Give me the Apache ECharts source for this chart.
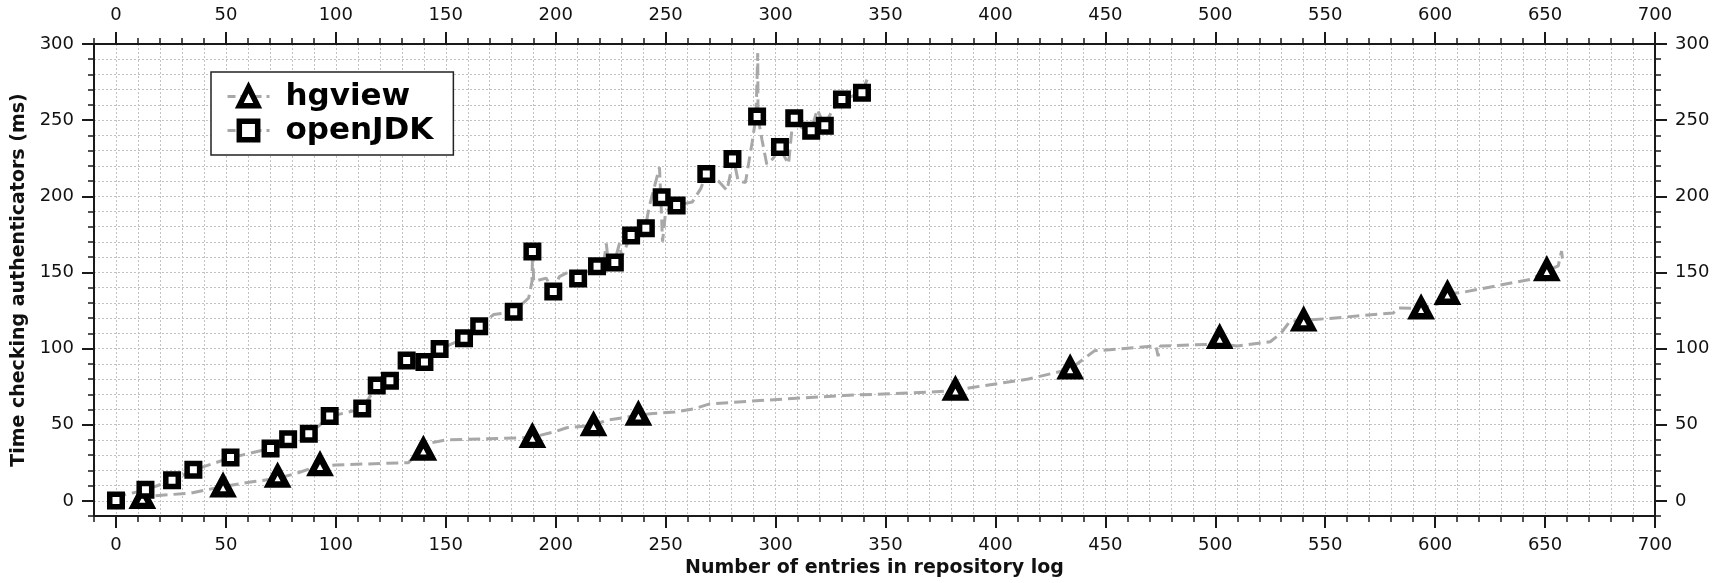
<!DOCTYPE html>
<html>
<head>
<meta charset="utf-8">
<script src="https://cdn.jsdelivr.net/npm/echarts@6/dist/echarts.min.js"></script>
<style>
html,body{margin:0;padding:0;background:#fff;}
#c{width:1716px;height:583px;}
</style>
</head>
<body>
<div id="c"></div>
<script>
// ---- data ----
const xMajorTicks = [0, 50, 100, 150, 200, 250, 300, 350, 400, 450, 500, 550, 600, 650, 700];
const yMajorTicks = [0, 50, 100, 150, 200, 250, 300];

// marker points
const hgviewX = [12, 48.7, 73.5, 92.8, 139.8, 189.4, 217.2, 237.6, 381.8, 434, 502, 540.2, 593.6, 605.6, 650.8];
const hgviewY = [2, 9.5, 16, 23.5, 33.6, 42, 49.7, 56.6, 73, 87, 107, 118.5, 126.5, 136, 151.5];

const openjdkX = [0, 13.4, 25.5, 35.2, 52.1, 70.3, 78.3, 87.7, 97.2, 112, 118.6, 124.6, 132.2, 140.3, 147.2, 158.3, 165.2, 180.9, 189.4, 198.9, 210.2, 218.8, 226.9, 234.3, 241, 248.2, 255, 268.5, 280.4, 291.6, 302, 308.5, 316.2, 322.4, 330.2, 339.3];
const openjdkY = [0.3, 7.3, 13.5, 20.5, 28.4, 34.4, 40.5, 44, 55.7, 60.6, 75.7, 78.8, 92.1, 91.2, 99.8, 106.8, 114.7, 124.2, 163.7, 137.5, 146, 154, 156.6, 174.3, 179, 199.4, 193.9, 214.7, 224.5, 252.4, 232.4, 251.2, 243, 246.3, 263.6, 268];

// dashed trace lines
const hgviewTraceX = [10, 12, 18, 34, 48.7, 62, 73.5, 82, 91, 100, 133, 142, 150, 185, 190, 200, 205, 217, 223, 237.5, 243, 254, 263, 270, 293, 331, 369, 382, 390, 415, 434, 445, 473, 474, 475, 502, 510, 525, 530, 534, 540, 551, 581, 583, 593.6, 603.5, 606, 612, 643.5, 651, 656, 657.5, 658];
const hgviewTraceY = [1, 2, 3.4, 5.1, 9.4, 12.5, 14.8, 18, 22.5, 23.6, 25.1, 37.7, 40, 41.4, 42, 45.6, 48, 49.5, 52.9, 56.2, 57.2, 58.3, 60.5, 63.7, 65.9, 69.2, 71.3, 72.5, 74.6, 80, 86.5, 98.5, 101.7, 95, 101.7, 103, 101.7, 104.5, 110.3, 118, 118.5, 119.7, 123.4, 126.6, 126.5, 130, 136, 136.8, 145.5, 151, 154.3, 164, 158];

const openjdkTraceX = [0, 4, 13.4, 25.5, 35.4, 52, 70.3, 78.3, 87.7, 97.5, 112, 118.7, 124.6, 132.4, 140.4, 147.2, 158.4, 165.4, 171.8, 180.9, 187.7, 189.2, 189.5, 190, 195.7, 198.7, 201.7, 206.2, 209.7, 218.6, 222, 223, 224, 226.7, 229, 230, 234.2, 240.7, 242.5, 247.2, 247.8, 248.6, 250, 254.6, 262.1, 265.9, 268.6, 274, 277.9, 280.9, 283, 286.3, 289.3, 291.1, 291.9, 292, 293.8, 296, 299, 301.8, 305.9, 307.9, 312, 316.1, 319, 322.2, 326, 329.9, 339.3, 341.6];
const openjdkTraceY = [0, 4, 7.2, 13.4, 20.3, 28.3, 34.4, 40.3, 43.8, 55.5, 60.5, 75.7, 78.5, 92, 91, 99.6, 106.7, 114.8, 122.4, 124.1, 133.2, 144, 163.6, 144, 146.3, 137.6, 147.3, 150.6, 146.3, 153.9, 158, 169, 156, 156.5, 169, 160, 174.5, 178.8, 192.9, 219, 199.4, 170.2, 190, 194, 196.2, 204.9, 214.6, 210, 203.8, 224.5, 210, 209, 235, 252.4, 294, 252, 237.3, 221, 225, 232, 221.3, 251, 245, 242.9, 257, 246.2, 257, 263.5, 267.8, 276.6];

// ---- build chart ----
const zip = (a, b) => a.map((v, i) => [v, b[i]]);
const FONT = 'DejaVu Sans';
const AXIS_COLOR = '#1a1a1a';
const GRID_LINE = { show: true, lineStyle: { color: '#c2c2c2', type: [2, 2], width: 1 } };
const TRACE = { color: '#a8a8a8', width: 3, type: [12, 6] };

function xAx(pos, major, labels, extra) {
  return Object.assign({
    type: 'value', position: pos, min: -10, max: 700, interval: 10,
    axisLine: { show: !major, onZero: false, lineStyle: { color: AXIS_COLOR, width: 2 } },
    axisTick: major ? { show: true, length: 12, customValues: xMajorTicks, lineStyle: { color: AXIS_COLOR, width: 2 } }
                    : { show: true, length: 6, lineStyle: { color: AXIS_COLOR, width: 1.5 } },
    axisLabel: labels ? { show: true, margin: 20, color: '#111', fontFamily: FONT, fontSize: 18,
                          formatter: v => xMajorTicks.indexOf(v) >= 0 ? String(v) : '' } : { show: false },
    splitLine: { show: false }
  }, extra || {});
}
function yAx(pos, major, labels, extra) {
  return Object.assign({
    type: 'value', position: pos, min: -10, max: 300, interval: 10,
    axisLine: { show: !major, onZero: false, lineStyle: { color: AXIS_COLOR, width: 2 } },
    axisTick: major ? { show: true, length: 12, customValues: yMajorTicks, lineStyle: { color: AXIS_COLOR, width: 2 } }
                    : { show: true, length: 6, lineStyle: { color: AXIS_COLOR, width: 1.5 } },
    axisLabel: labels ? { show: true, margin: 20, color: '#111', fontFamily: FONT, fontSize: 18,
                          formatter: v => yMajorTicks.indexOf(v) >= 0 ? String(v) : '' } : { show: false },
    splitLine: { show: false }
  }, extra || {});
}

const MARK = { color: '#fff', borderColor: '#000', borderWidth: 5.5, opacity: 1 };
const TRI = { color: '#fff', borderColor: '#000', borderWidth: 6.5, opacity: 1, borderJoin: 'miter' };

const chart = echarts.init(document.getElementById('c'), null, { renderer: 'canvas' });
chart.setOption({
  animation: false,
  backgroundColor: '#fff',
  grid: { left: 94, right: 61, top: 44, bottom: 64, containLabel: false },
  xAxis: [
    xAx('bottom', false, true, {
      splitLine: GRID_LINE,
      name: 'Number of entries in repository log', nameLocation: 'middle', nameGap: 42,
      nameTextStyle: { fontFamily: FONT, fontSize: 19, fontWeight: 'bold', color: '#111' }
    }),
    xAx('bottom', true, false),
    xAx('top', false, true),
    xAx('top', true, false)
  ],
  yAxis: [
    yAx('left', false, true, {
      splitLine: GRID_LINE,
      name: 'Time checking authenticators (ms)', nameLocation: 'middle', nameGap: 60, nameRotate: 90,
      nameTextStyle: { fontFamily: FONT, fontSize: 19, fontWeight: 'bold', color: '#111' }
    }),
    yAx('left', true, false),
    yAx('right', false, true),
    yAx('right', true, false)
  ],
  legend: {
    left: 211, top: 72, orient: 'vertical',
    data: ['hgview', 'openJDK'],
    backgroundColor: '#fff', borderColor: '#222', borderWidth: 1.5,
    padding: [9, 20, 9, 15], itemGap: 3, itemWidth: 42, itemHeight: 23,
    itemStyle: { borderWidth: 5.5, borderColor: '#000', color: '#fff', opacity: 1 },
    lineStyle: { color: '#a8a8a8', width: 3, type: [8, 5] },
    textStyle: { fontFamily: FONT, fontSize: 31, fontWeight: 'bold', color: '#000', padding: [0, 0, 0, 11] }
  },
  series: [
    {
      name: 'hgview', type: 'line', data: zip(hgviewTraceX, hgviewTraceY),
      showSymbol: false, symbol: 'triangle',
      itemStyle: TRI, lineStyle: TRACE, z: 2
    },
    {
      name: 'openJDK', type: 'line', data: zip(openjdkTraceX, openjdkTraceY),
      showSymbol: false, symbol: 'rect',
      itemStyle: MARK, lineStyle: TRACE, z: 2
    },
    {
      name: 'hgview', type: 'scatter', data: zip(hgviewX, hgviewY),
      symbol: 'triangle', symbolSize: [17, 16],
      itemStyle: TRI, z: 3
    },
    {
      name: 'openJDK', type: 'scatter', data: zip(openjdkX, openjdkY),
      symbol: 'rect', symbolSize: 12.5,
      itemStyle: MARK, z: 3
    }
  ]
});
</script>
</body>
</html>
